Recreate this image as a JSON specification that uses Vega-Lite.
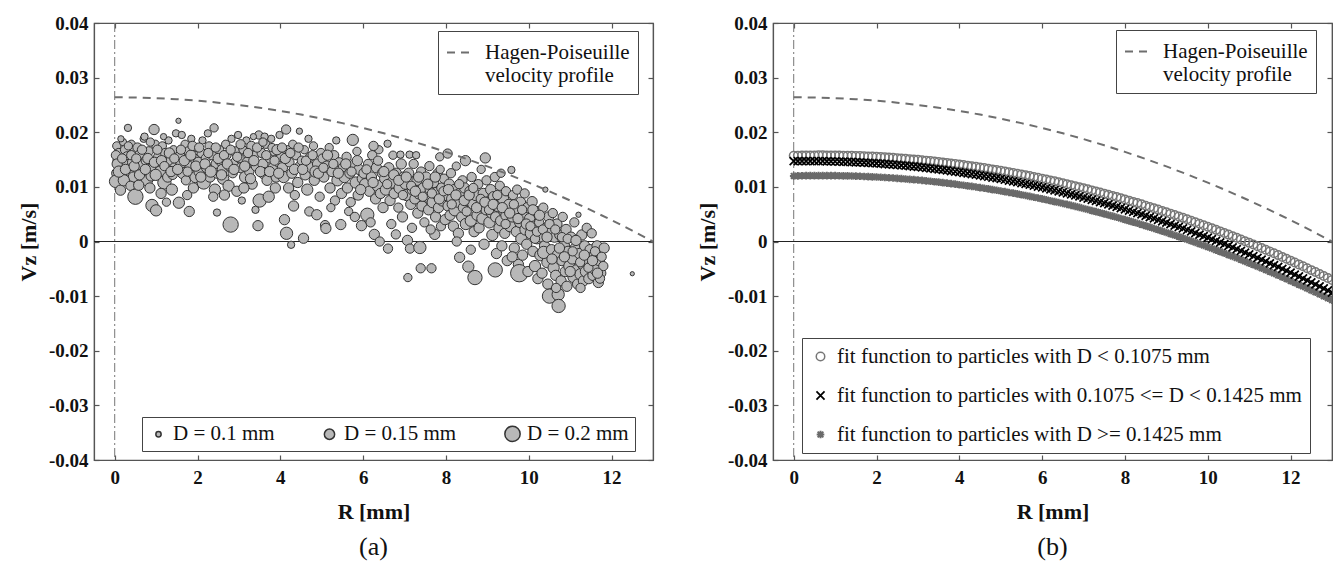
{
"$schema": "https://vega.github.io/schema/vega-lite/v6.json",
"background": "white",
"padding": {"left": 16, "top": 13, "right": 2, "bottom": 2},
"bounds": "flush",
"spacing": 120,
"resolve": {"scale": {"size": "independent", "strokeDash": "independent", "shape": "independent", "color": "independent", "strokeWidth": "independent"}, "legend": {"size": "independent", "strokeDash": "independent", "shape": "independent", "color": "independent", "strokeWidth": "independent"}},
"config": {
  "font": "Liberation Serif",
  "view": {"stroke": "#555", "strokeWidth": 1.2},
  "axis": {"labelFont": "Liberation Serif", "labelFontWeight": "bold", "labelFontSize": 19, "labelColor": "#111", "titleFont": "Liberation Serif", "titleFontSize": 22, "titleFontWeight": "bold", "titleColor": "#111", "domainColor": "#555", "tickColor": "#555", "domainWidth": 1.2, "tickWidth": 1.2, "grid": false},
  "legend": {"labelFont": "Liberation Serif", "labelColor": "#111", "strokeColor": "#444", "fillColor": "white", "cornerRadius": 0, "labelLimit": 800},
  "title": {"font": "Liberation Serif", "fontWeight": "normal", "fontSize": 26, "color": "#111"}
},
"datasets": {
"sc": [
{"r":0.05,"v":0.0175,"d":0.13},{"r":0.1,"v":0.0162,"d":0.14},{"r":0.08,"v":0.0148,"d":0.15},{"r":0.12,"v":0.0135,"d":0.14},{"r":0.05,"v":0.0125,"d":0.15},{"r":0.02,"v":0.011,"d":0.17},{"r":0.14,"v":0.0094,"d":0.15},{"r":0.2,"v":0.0182,"d":0.12},{"r":0.25,"v":0.0168,"d":0.14},{"r":0.3,"v":0.0155,"d":0.15},{"r":0.28,"v":0.014,"d":0.16},{"r":0.35,"v":0.0128,"d":0.14},{"r":0.32,"v":0.0208,"d":0.12},{"r":0.4,"v":0.0178,"d":0.13},{"r":0.45,"v":0.0118,"d":0.15},{"r":0.42,"v":0.0145,"d":0.14},{"r":0.22,"v":0.0112,"d":0.16},{"r":0.48,"v":0.0165,"d":0.15},{"r":0.15,"v":0.0188,"d":0.11},{"r":0.38,"v":0.0102,"d":0.14},
{"r":0.5,"v":0.0082,"d":0.2},{"r":0.55,"v":0.0172,"d":0.14},{"r":0.6,"v":0.0158,"d":0.15},{"r":0.62,"v":0.0138,"d":0.16},{"r":0.68,"v":0.0125,"d":0.15},{"r":0.7,"v":0.0188,"d":0.12},{"r":0.75,"v":0.0148,"d":0.14},{"r":0.78,"v":0.0112,"d":0.16},{"r":0.82,"v":0.0165,"d":0.14},{"r":0.85,"v":0.0098,"d":0.15},{"r":0.9,"v":0.0066,"d":0.17},{"r":0.95,"v":0.0205,"d":0.15},{"r":0.92,"v":0.0135,"d":0.14},{"r":0.98,"v":0.0178,"d":0.13},{"r":1.0,"v":0.0057,"d":0.16},{"r":0.88,"v":0.012,"d":0.15},{"r":0.58,"v":0.0103,"d":0.15},{"r":0.72,"v":0.0192,"d":0.12},
{"r":1.05,"v":0.0155,"d":0.14},{"r":1.08,"v":0.0142,"d":0.15},{"r":1.1,"v":0.0128,"d":0.16},{"r":1.15,"v":0.0175,"d":0.13},{"r":1.2,"v":0.0108,"d":0.18},{"r":1.22,"v":0.0162,"d":0.14},{"r":1.28,"v":0.0118,"d":0.15},{"r":1.3,"v":0.0185,"d":0.12},{"r":1.35,"v":0.0148,"d":0.14},{"r":1.38,"v":0.0095,"d":0.16},{"r":1.42,"v":0.0168,"d":0.13},{"r":1.45,"v":0.0135,"d":0.15},{"r":1.48,"v":0.0198,"d":0.12},{"r":1.12,"v":0.0088,"d":0.15},{"r":1.25,"v":0.0072,"d":0.13},{"r":1.4,"v":0.0122,"d":0.14},{"r":1.18,"v":0.0192,"d":0.11},
{"r":1.54,"v":0.0221,"d":0.1},{"r":1.55,"v":0.0071,"d":0.16},{"r":1.58,"v":0.0158,"d":0.14},{"r":1.6,"v":0.0142,"d":0.15},{"r":1.65,"v":0.0125,"d":0.16},{"r":1.7,"v":0.0178,"d":0.13},{"r":1.72,"v":0.0112,"d":0.14},{"r":1.78,"v":0.0165,"d":0.14},{"r":1.8,"v":0.0055,"d":0.15},{"r":1.82,"v":0.0138,"d":0.15},{"r":1.85,"v":0.0188,"d":0.12},{"r":1.9,"v":0.0098,"d":0.15},{"r":1.92,"v":0.0152,"d":0.14},{"r":1.95,"v":0.0118,"d":0.16},{"r":1.98,"v":0.0172,"d":0.13},{"r":1.62,"v":0.0195,"d":0.12},{"r":1.75,"v":0.0085,"d":0.14},
{"r":2.02,"v":0.0145,"d":0.15},{"r":2.05,"v":0.0128,"d":0.16},{"r":2.1,"v":0.0162,"d":0.14},{"r":2.12,"v":0.0185,"d":0.12},{"r":2.15,"v":0.0108,"d":0.18},{"r":2.2,"v":0.0152,"d":0.14},{"r":2.22,"v":0.0135,"d":0.15},{"r":2.28,"v":0.0175,"d":0.13},{"r":2.3,"v":0.0118,"d":0.15},{"r":2.35,"v":0.0158,"d":0.14},{"r":2.4,"v":0.0208,"d":0.13},{"r":2.42,"v":0.0095,"d":0.16},{"r":2.45,"v":0.0142,"d":0.15},{"r":2.47,"v":0.0053,"d":0.12},{"r":2.48,"v":0.0125,"d":0.15},{"r":2.25,"v":0.0198,"d":0.12},{"r":2.38,"v":0.0082,"d":0.14},
{"r":2.52,"v":0.0168,"d":0.14},{"r":2.55,"v":0.0148,"d":0.15},{"r":2.6,"v":0.0132,"d":0.15},{"r":2.62,"v":0.0115,"d":0.16},{"r":2.68,"v":0.0178,"d":0.13},{"r":2.7,"v":0.0158,"d":0.14},{"r":2.75,"v":0.0102,"d":0.16},{"r":2.78,"v":0.0138,"d":0.15},{"r":2.8,"v":0.0031,"d":0.2},{"r":2.82,"v":0.0188,"d":0.12},{"r":2.85,"v":0.0125,"d":0.14},{"r":2.9,"v":0.0165,"d":0.14},{"r":2.92,"v":0.0145,"d":0.15},{"r":2.95,"v":0.0092,"d":0.15},{"r":2.98,"v":0.0195,"d":0.12},{"r":2.65,"v":0.0085,"d":0.15},
{"r":3.02,"v":0.0152,"d":0.14},{"r":3.05,"v":0.0135,"d":0.15},{"r":3.07,"v":0.0075,"d":0.12},{"r":3.1,"v":0.0168,"d":0.13},{"r":3.15,"v":0.0118,"d":0.16},{"r":3.18,"v":0.0185,"d":0.12},{"r":3.2,"v":0.0145,"d":0.15},{"r":3.25,"v":0.0128,"d":0.14},{"r":3.3,"v":0.0175,"d":0.14},{"r":3.32,"v":0.0105,"d":0.15},{"r":3.38,"v":0.0158,"d":0.13},{"r":3.4,"v":0.0058,"d":0.12},{"r":3.42,"v":0.0138,"d":0.15},{"r":3.46,"v":0.0029,"d":0.15},{"r":3.48,"v":0.0195,"d":0.13},{"r":3.5,"v":0.0075,"d":0.18},{"r":3.35,"v":0.0192,"d":0.11},{"r":3.12,"v":0.0098,"d":0.15},
{"r":3.55,"v":0.0162,"d":0.14},{"r":3.58,"v":0.0142,"d":0.15},{"r":3.6,"v":0.0125,"d":0.16},{"r":3.65,"v":0.0178,"d":0.13},{"r":3.68,"v":0.0112,"d":0.15},{"r":3.72,"v":0.0082,"d":0.16},{"r":3.75,"v":0.0152,"d":0.14},{"r":3.78,"v":0.0188,"d":0.12},{"r":3.82,"v":0.0135,"d":0.15},{"r":3.85,"v":0.0165,"d":0.14},{"r":3.88,"v":0.0098,"d":0.15},{"r":3.9,"v":0.0118,"d":0.15},{"r":3.95,"v":0.0145,"d":0.14},{"r":3.98,"v":0.0195,"d":0.12},{"r":3.62,"v":0.0192,"d":0.12},{"r":3.8,"v":0.0172,"d":0.13},
{"r":4.02,"v":0.0155,"d":0.14},{"r":4.05,"v":0.0135,"d":0.15},{"r":4.08,"v":0.0118,"d":0.16},{"r":4.1,"v":0.004,"d":0.15},{"r":4.14,"v":0.0205,"d":0.14},{"r":4.15,"v":0.0015,"d":0.17},{"r":4.18,"v":0.0168,"d":0.13},{"r":4.2,"v":0.0098,"d":0.15},{"r":4.22,"v":0.0145,"d":0.14},{"r":4.26,"v":-0.0006,"d":0.12},{"r":4.28,"v":0.0125,"d":0.15},{"r":4.3,"v":0.0178,"d":0.13},{"r":4.35,"v":0.0085,"d":0.14},{"r":4.38,"v":0.0158,"d":0.14},{"r":4.42,"v":0.0108,"d":0.15},{"r":4.46,"v":0.0202,"d":0.11},{"r":4.48,"v":0.0138,"d":0.15},{"r":4.32,"v":0.0065,"d":0.15},
{"r":4.52,"v":0.0148,"d":0.14},{"r":4.56,"v":0.0006,"d":0.15},{"r":4.58,"v":0.0168,"d":0.13},{"r":4.6,"v":0.0122,"d":0.15},{"r":4.65,"v":0.0095,"d":0.16},{"r":4.7,"v":0.0055,"d":0.14},{"r":4.72,"v":0.0155,"d":0.14},{"r":4.75,"v":0.0135,"d":0.15},{"r":4.8,"v":0.0175,"d":0.13},{"r":4.82,"v":0.0112,"d":0.15},{"r":4.88,"v":0.0049,"d":0.15},{"r":4.9,"v":0.0142,"d":0.15},{"r":4.95,"v":0.0082,"d":0.14},{"r":4.98,"v":0.0162,"d":0.14},{"r":4.68,"v":0.0188,"d":0.12},{"r":4.85,"v":0.0128,"d":0.16},
{"r":5.02,"v":0.0152,"d":0.14},{"r":5.05,"v":0.0118,"d":0.15},{"r":5.08,"v":0.003,"d":0.14},{"r":5.1,"v":0.0024,"d":0.15},{"r":5.12,"v":0.0138,"d":0.15},{"r":5.18,"v":0.0172,"d":0.13},{"r":5.2,"v":0.0098,"d":0.15},{"r":5.25,"v":0.0128,"d":0.15},{"r":5.3,"v":0.0158,"d":0.14},{"r":5.32,"v":0.0075,"d":0.14},{"r":5.38,"v":0.0112,"d":0.16},{"r":5.42,"v":0.0145,"d":0.14},{"r":5.46,"v":0.0031,"d":0.15},{"r":5.48,"v":0.0088,"d":0.15},{"r":5.35,"v":0.0185,"d":0.12},{"r":5.22,"v":0.0062,"d":0.13},
{"r":5.52,"v":0.0135,"d":0.15},{"r":5.55,"v":0.0118,"d":0.16},{"r":5.6,"v":0.0155,"d":0.14},{"r":5.62,"v":0.0098,"d":0.15},{"r":5.68,"v":0.0125,"d":0.15},{"r":5.7,"v":0.0072,"d":0.14},{"r":5.75,"v":0.0186,"d":0.16},{"r":5.78,"v":0.0142,"d":0.14},{"r":5.82,"v":0.0108,"d":0.16},{"r":5.85,"v":0.0165,"d":0.13},{"r":5.88,"v":0.0085,"d":0.15},{"r":5.9,"v":0.0132,"d":0.15},{"r":5.96,"v":0.0029,"d":0.15},{"r":5.98,"v":0.0115,"d":0.15},{"r":5.65,"v":0.0055,"d":0.13},{"r":5.8,"v":0.0045,"d":0.14},
{"r":6.02,"v":0.0125,"d":0.15},{"r":6.05,"v":0.0105,"d":0.16},{"r":6.1,"v":0.0049,"d":0.18},{"r":6.12,"v":0.0142,"d":0.14},{"r":6.15,"v":0.0092,"d":0.15},{"r":6.2,"v":0.0118,"d":0.15},{"r":6.22,"v":0.0158,"d":0.14},{"r":6.27,"v":0.0013,"d":0.15},{"r":6.3,"v":0.0078,"d":0.15},{"r":6.32,"v":0.0135,"d":0.15},{"r":6.35,"v":0.0102,"d":0.16},{"r":6.38,"v":0.0168,"d":0.13},{"r":6.4,"v":0.0,"d":0.14},{"r":6.42,"v":0.0088,"d":0.15},{"r":6.45,"v":0.0125,"d":0.14},{"r":6.48,"v":0.0062,"d":0.15},{"r":6.25,"v":0.0175,"d":0.14},{"r":6.18,"v":0.0035,"d":0.14},
{"r":6.52,"v":0.0115,"d":0.15},{"r":6.55,"v":0.0095,"d":0.16},{"r":6.59,"v":0.0179,"d":0.12},{"r":6.6,"v":-0.0013,"d":0.14},{"r":6.62,"v":0.0135,"d":0.15},{"r":6.65,"v":0.0075,"d":0.15},{"r":6.7,"v":0.0108,"d":0.16},{"r":6.72,"v":0.0158,"d":0.13},{"r":6.75,"v":0.0088,"d":0.15},{"r":6.79,"v":0.0013,"d":0.14},{"r":6.8,"v":0.0125,"d":0.15},{"r":6.85,"v":0.0062,"d":0.14},{"r":6.88,"v":0.0098,"d":0.16},{"r":6.9,"v":0.0159,"d":0.12},{"r":6.92,"v":0.0142,"d":0.15},{"r":6.95,"v":0.0045,"d":0.15},{"r":6.98,"v":0.0118,"d":0.15},{"r":6.68,"v":0.0032,"d":0.14},
{"r":7.02,"v":0.0105,"d":0.15},{"r":7.05,"v":0.0085,"d":0.16},{"r":7.07,"v":0.0002,"d":0.15},{"r":7.08,"v":-0.0066,"d":0.13},{"r":7.1,"v":0.0125,"d":0.15},{"r":7.12,"v":0.0159,"d":0.12},{"r":7.13,"v":-0.0013,"d":0.14},{"r":7.15,"v":0.0068,"d":0.15},{"r":7.2,"v":0.0095,"d":0.16},{"r":7.22,"v":0.0142,"d":0.14},{"r":7.25,"v":0.0078,"d":0.15},{"r":7.28,"v":0.0158,"d":0.12},{"r":7.3,"v":0.0112,"d":0.15},{"r":7.32,"v":0.0052,"d":0.15},{"r":7.35,"v":0.0088,"d":0.16},{"r":7.37,"v":-0.0011,"d":0.17},{"r":7.39,"v":-0.0049,"d":0.14},{"r":7.4,"v":0.0128,"d":0.14},{"r":7.42,"v":0.0065,"d":0.15},{"r":7.45,"v":0.0098,"d":0.15},{"r":7.48,"v":0.0035,"d":0.14},{"r":7.18,"v":0.0025,"d":0.14},
{"r":7.52,"v":0.0118,"d":0.15},{"r":7.55,"v":0.0082,"d":0.16},{"r":7.58,"v":0.0058,"d":0.15},{"r":7.6,"v":0.0138,"d":0.14},{"r":7.62,"v":0.0095,"d":0.15},{"r":7.65,"v":-0.0049,"d":0.14},{"r":7.68,"v":0.0072,"d":0.16},{"r":7.7,"v":0.0108,"d":0.15},{"r":7.73,"v":0.0013,"d":0.15},{"r":7.75,"v":0.0045,"d":0.15},{"r":7.78,"v":0.0088,"d":0.17},{"r":7.8,"v":0.0125,"d":0.14},{"r":7.82,"v":0.0062,"d":0.15},{"r":7.85,"v":0.0155,"d":0.13},{"r":7.88,"v":0.0028,"d":0.14},{"r":7.9,"v":0.0098,"d":0.15},{"r":7.92,"v":0.0075,"d":0.16},{"r":7.95,"v":0.0115,"d":0.14},{"r":7.98,"v":0.004,"d":0.15},{"r":7.63,"v":0.0022,"d":0.14},{"r":7.86,"v":0.0132,"d":0.13},
{"r":8.02,"v":0.0085,"d":0.16},{"r":8.04,"v":0.0161,"d":0.14},{"r":8.05,"v":0.0065,"d":0.15},{"r":8.08,"v":0.0105,"d":0.15},{"r":8.1,"v":0.0048,"d":0.15},{"r":8.12,"v":0.0125,"d":0.14},{"r":8.15,"v":0.0078,"d":0.16},{"r":8.18,"v":0.0028,"d":0.15},{"r":8.2,"v":0.0095,"d":0.15},{"r":8.22,"v":0.0058,"d":0.17},{"r":8.25,"v":0.0138,"d":0.13},{"r":8.28,"v":0.0072,"d":0.15},{"r":8.3,"v":0.0015,"d":0.15},{"r":8.33,"v":-0.0029,"d":0.15},{"r":8.35,"v":0.0088,"d":0.16},{"r":8.38,"v":0.0045,"d":0.15},{"r":8.4,"v":0.0112,"d":0.14},{"r":8.42,"v":0.0062,"d":0.15},{"r":8.45,"v":0.0098,"d":0.15},{"r":8.47,"v":0.0148,"d":0.15},{"r":8.48,"v":0.0032,"d":0.16},{"r":8.26,"v":0.0,"d":0.14},
{"r":8.52,"v":0.0075,"d":0.15},{"r":8.54,"v":-0.0046,"d":0.16},{"r":8.55,"v":0.0055,"d":0.15},{"r":8.58,"v":0.0092,"d":0.15},{"r":8.6,"v":0.0038,"d":0.16},{"r":8.62,"v":0.0118,"d":0.14},{"r":8.65,"v":0.0068,"d":0.15},{"r":8.68,"v":0.0018,"d":0.15},{"r":8.7,"v":-0.0066,"d":0.19},{"r":8.72,"v":0.0085,"d":0.16},{"r":8.75,"v":0.0048,"d":0.15},{"r":8.78,"v":0.0105,"d":0.14},{"r":8.8,"v":0.0025,"d":0.15},{"r":8.82,"v":0.0065,"d":0.15},{"r":8.85,"v":0.0132,"d":0.13},{"r":8.88,"v":0.0042,"d":0.16},{"r":8.9,"v":0.0088,"d":0.15},{"r":8.92,"v":-0.0005,"d":0.15},{"r":8.95,"v":0.0153,"d":0.15},{"r":8.97,"v":0.0058,"d":0.15},{"r":8.98,"v":0.0112,"d":0.14},{"r":8.6,"v":-0.0015,"d":0.14},
{"r":9.02,"v":0.0072,"d":0.15},{"r":9.05,"v":0.0035,"d":0.16},{"r":9.08,"v":0.0095,"d":0.15},{"r":9.1,"v":0.0052,"d":0.15},{"r":9.12,"v":0.0012,"d":0.16},{"r":9.15,"v":0.0082,"d":0.15},{"r":9.18,"v":0.0118,"d":0.14},{"r":9.19,"v":-0.0052,"d":0.19},{"r":9.2,"v":0.0045,"d":0.15},{"r":9.22,"v":-0.0022,"d":0.15},{"r":9.25,"v":0.0065,"d":0.16},{"r":9.28,"v":0.0025,"d":0.15},{"r":9.3,"v":0.0102,"d":0.14},{"r":9.32,"v":0.0038,"d":0.15},{"r":9.35,"v":-0.0008,"d":0.15},{"r":9.38,"v":0.0078,"d":0.16},{"r":9.4,"v":0.0055,"d":0.15},{"r":9.42,"v":0.0015,"d":0.15},{"r":9.45,"v":0.0092,"d":0.14},{"r":9.48,"v":-0.0035,"d":0.15},{"r":9.46,"v":0.0048,"d":0.16},{"r":9.33,"v":0.0125,"d":0.13},
{"r":9.52,"v":0.0068,"d":0.15},{"r":9.55,"v":0.0028,"d":0.16},{"r":9.58,"v":0.0131,"d":0.12},{"r":9.6,"v":0.0045,"d":0.15},{"r":9.62,"v":0.0085,"d":0.14},{"r":9.65,"v":-0.0012,"d":0.15},{"r":9.68,"v":0.0058,"d":0.16},{"r":9.7,"v":0.0018,"d":0.15},{"r":9.72,"v":0.0095,"d":0.14},{"r":9.75,"v":-0.0042,"d":0.15},{"r":9.77,"v":-0.0058,"d":0.22},{"r":9.78,"v":0.0035,"d":0.15},{"r":9.8,"v":0.0072,"d":0.15},{"r":9.82,"v":0.0005,"d":0.16},{"r":9.85,"v":-0.0025,"d":0.15},{"r":9.88,"v":0.0048,"d":0.15},{"r":9.9,"v":0.0088,"d":0.14},{"r":9.92,"v":0.0022,"d":0.16},{"r":9.95,"v":-0.0005,"d":0.15},{"r":9.97,"v":0.0062,"d":0.15},{"r":9.98,"v":-0.0055,"d":0.15},{"r":9.6,"v":-0.0028,"d":0.15},
{"r":10.02,"v":0.0042,"d":0.15},{"r":10.05,"v":0.0015,"d":0.16},{"r":10.08,"v":0.0073,"d":0.15},{"r":10.1,"v":-0.0018,"d":0.15},{"r":10.12,"v":0.0028,"d":0.15},{"r":10.15,"v":-0.0045,"d":0.16},{"r":10.18,"v":0.0055,"d":0.15},{"r":10.2,"v":0.0005,"d":0.15},{"r":10.22,"v":-0.0068,"d":0.15},{"r":10.25,"v":0.0035,"d":0.14},{"r":10.28,"v":-0.0025,"d":0.16},{"r":10.3,"v":0.0012,"d":0.19},{"r":10.32,"v":-0.0058,"d":0.15},{"r":10.35,"v":0.0062,"d":0.14},{"r":10.38,"v":-0.0008,"d":0.15},{"r":10.4,"v":0.0095,"d":0.1},{"r":10.42,"v":0.0025,"d":0.15},{"r":10.45,"v":-0.0038,"d":0.16},{"r":10.48,"v":0.0045,"d":0.15},{"r":10.46,"v":-0.0078,"d":0.15},{"r":10.36,"v":-0.002,"d":0.17},{"r":10.15,"v":0.0005,"d":0.14},
{"r":10.5,"v":-0.01,"d":0.19},{"r":10.52,"v":0.0018,"d":0.15},{"r":10.55,"v":-0.0015,"d":0.15},{"r":10.58,"v":0.0052,"d":0.14},{"r":10.6,"v":-0.0048,"d":0.16},{"r":10.62,"v":0.0008,"d":0.15},{"r":10.65,"v":-0.0062,"d":0.15},{"r":10.68,"v":0.0032,"d":0.15},{"r":10.7,"v":-0.0025,"d":0.16},{"r":10.71,"v":-0.0097,"d":0.17},{"r":10.72,"v":-0.0118,"d":0.18},{"r":10.75,"v":0.0012,"d":0.15},{"r":10.78,"v":-0.0072,"d":0.15},{"r":10.8,"v":-0.0035,"d":0.15},{"r":10.82,"v":0.0045,"d":0.14},{"r":10.85,"v":-0.0008,"d":0.16},{"r":10.88,"v":-0.0055,"d":0.15},{"r":10.9,"v":0.0022,"d":0.15},{"r":10.92,"v":-0.0082,"d":0.15},{"r":10.95,"v":-0.0018,"d":0.15},{"r":10.98,"v":-0.0045,"d":0.16},{"r":10.66,"v":-0.0085,"d":0.14},
{"r":11.02,"v":0.0008,"d":0.15},{"r":11.05,"v":-0.0032,"d":0.15},{"r":11.08,"v":-0.0065,"d":0.16},{"r":11.1,"v":0.0035,"d":0.14},{"r":11.12,"v":-0.0012,"d":0.15},{"r":11.15,"v":-0.0052,"d":0.15},{"r":11.18,"v":-0.0078,"d":0.15},{"r":11.2,"v":0.0049,"d":0.1},{"r":11.22,"v":-0.0022,"d":0.15},{"r":11.25,"v":-0.006,"d":0.16},{"r":11.28,"v":0.0012,"d":0.15},{"r":11.3,"v":-0.0042,"d":0.15},{"r":11.32,"v":-0.0072,"d":0.15},{"r":11.35,"v":-0.0008,"d":0.15},{"r":11.38,"v":-0.0055,"d":0.16},{"r":11.4,"v":0.0025,"d":0.14},{"r":11.42,"v":-0.0035,"d":0.15},{"r":11.45,"v":-0.0068,"d":0.15},{"r":11.48,"v":-0.0015,"d":0.15},{"r":11.25,"v":-0.0085,"d":0.14},
{"r":11.5,"v":-0.0045,"d":0.15},{"r":11.52,"v":0.0015,"d":0.14},{"r":11.55,"v":-0.0062,"d":0.15},{"r":11.58,"v":-0.0025,"d":0.15},{"r":11.62,"v":-0.0052,"d":0.16},{"r":11.65,"v":-0.0008,"d":0.15},{"r":11.68,"v":-0.0075,"d":0.15},{"r":11.7,"v":-0.0035,"d":0.15},{"r":11.75,"v":-0.0058,"d":0.14},{"r":11.8,"v":-0.0045,"d":0.14},{"r":11.82,"v":-0.0012,"d":0.15},{"r":11.72,"v":-0.0068,"d":0.14},
{"r":12.5,"v":-0.0059,"d":0.09},
{"r":0.03,"v":0.0158,"d":0.14},{"r":0.06,"v":0.0142,"d":0.15},{"r":0.1,"v":0.0128,"d":0.16},{"r":0.18,"v":0.0152,"d":0.14},{"r":0.26,"v":0.0132,"d":0.15},{"r":0.33,"v":0.0175,"d":0.13},{"r":0.4,"v":0.0158,"d":0.14},{"r":0.47,"v":0.0138,"d":0.15},{"r":0.52,"v":0.0152,"d":0.14},{"r":0.6,"v":0.0122,"d":0.15},{"r":0.66,"v":0.0168,"d":0.14},{"r":0.74,"v":0.0132,"d":0.15},{"r":0.8,"v":0.0152,"d":0.15},{"r":0.86,"v":0.0182,"d":0.13},{"r":0.96,"v":0.0145,"d":0.15},{"r":0.99,"v":0.0122,"d":0.16},
{"r":1.03,"v":0.0168,"d":0.14},{"r":1.13,"v":0.0148,"d":0.15},{"r":1.2,"v":0.0138,"d":0.14},{"r":1.32,"v":0.0162,"d":0.15},{"r":1.36,"v":0.0128,"d":0.15},{"r":1.44,"v":0.0152,"d":0.14},{"r":1.52,"v":0.0132,"d":0.15},{"r":1.6,"v":0.0168,"d":0.14},{"r":1.68,"v":0.0148,"d":0.15},{"r":1.76,"v":0.0128,"d":0.14},{"r":1.84,"v":0.0158,"d":0.15},{"r":1.88,"v":0.0175,"d":0.14},{"r":1.96,"v":0.0138,"d":0.15},
{"r":2.04,"v":0.0172,"d":0.14},{"r":2.08,"v":0.0118,"d":0.15},{"r":2.18,"v":0.0142,"d":0.15},{"r":2.26,"v":0.0162,"d":0.14},{"r":2.32,"v":0.0128,"d":0.16},{"r":2.44,"v":0.0172,"d":0.14},{"r":2.5,"v":0.0152,"d":0.15},{"r":2.58,"v":0.0122,"d":0.15},{"r":2.64,"v":0.0158,"d":0.14},{"r":2.72,"v":0.0142,"d":0.15},{"r":2.8,"v":0.0168,"d":0.14},{"r":2.88,"v":0.0132,"d":0.15},{"r":2.96,"v":0.0155,"d":0.14},
{"r":3.04,"v":0.0178,"d":0.14},{"r":3.14,"v":0.0138,"d":0.15},{"r":3.22,"v":0.0162,"d":0.14},{"r":3.28,"v":0.0115,"d":0.15},{"r":3.36,"v":0.0148,"d":0.15},{"r":3.44,"v":0.0172,"d":0.14},{"r":3.52,"v":0.0128,"d":0.15},{"r":3.58,"v":0.0182,"d":0.13},{"r":3.66,"v":0.0158,"d":0.14},{"r":3.74,"v":0.0128,"d":0.15},{"r":3.86,"v":0.0148,"d":0.14},{"r":3.92,"v":0.0168,"d":0.15},{"r":3.96,"v":0.0125,"d":0.15},
{"r":4.04,"v":0.0172,"d":0.14},{"r":4.12,"v":0.0152,"d":0.15},{"r":4.24,"v":0.0162,"d":0.14},{"r":4.34,"v":0.0132,"d":0.15},{"r":4.44,"v":0.0172,"d":0.14},{"r":4.54,"v":0.0132,"d":0.15},{"r":4.62,"v":0.0148,"d":0.14},{"r":4.78,"v":0.0158,"d":0.14},{"r":4.92,"v":0.0125,"d":0.15},{"r":5.04,"v":0.0135,"d":0.14},{"r":5.14,"v":0.0158,"d":0.15},{"r":5.28,"v":0.0142,"d":0.14},{"r":5.4,"v":0.0125,"d":0.15},{"r":5.58,"v":0.0142,"d":0.15},{"r":5.72,"v":0.0128,"d":0.14},{"r":5.86,"v":0.0148,"d":0.15},{"r":5.94,"v":0.0095,"d":0.15},
{"r":6.08,"v":0.0132,"d":0.14},{"r":6.24,"v":0.0108,"d":0.15},{"r":6.36,"v":0.0148,"d":0.14},{"r":6.5,"v":0.0128,"d":0.15},{"r":6.58,"v":0.0105,"d":0.14},{"r":6.74,"v":0.0122,"d":0.15},{"r":6.86,"v":0.0112,"d":0.15},{"r":6.96,"v":0.0085,"d":0.14},{"r":7.04,"v":0.0118,"d":0.15},{"r":7.16,"v":0.0102,"d":0.14},{"r":7.26,"v":0.0092,"d":0.15},{"r":7.34,"v":0.0118,"d":0.15},{"r":7.44,"v":0.0082,"d":0.14},{"r":7.56,"v":0.0105,"d":0.15},{"r":7.66,"v":0.0088,"d":0.14},{"r":7.74,"v":0.0118,"d":0.15},{"r":7.84,"v":0.0078,"d":0.15},{"r":7.94,"v":0.0092,"d":0.14},
{"r":8.06,"v":0.0095,"d":0.15},{"r":8.14,"v":0.0068,"d":0.14},{"r":8.24,"v":0.0085,"d":0.15},{"r":8.32,"v":0.0105,"d":0.14},{"r":8.44,"v":0.0075,"d":0.15},{"r":8.5,"v":0.0055,"d":0.14},{"r":8.56,"v":0.0085,"d":0.15},{"r":8.66,"v":0.0098,"d":0.14},{"r":8.74,"v":0.0062,"d":0.15},{"r":8.84,"v":0.0078,"d":0.14},{"r":8.94,"v":0.0072,"d":0.15},{"r":9.04,"v":0.0058,"d":0.14},{"r":9.14,"v":0.0068,"d":0.15},{"r":9.24,"v":0.0085,"d":0.14},{"r":9.36,"v":0.0062,"d":0.15},{"r":9.44,"v":0.0032,"d":0.14},{"r":9.54,"v":0.0052,"d":0.15},{"r":9.64,"v":0.0068,"d":0.14},{"r":9.74,"v":0.0042,"d":0.15},{"r":9.84,"v":0.0058,"d":0.14},{"r":9.94,"v":0.0032,"d":0.15},
{"r":10.04,"v":0.0028,"d":0.14},{"r":10.1,"v":0.0058,"d":0.15},{"r":10.2,"v":0.0018,"d":0.14},{"r":10.26,"v":0.0048,"d":0.15},{"r":10.34,"v":0.0022,"d":0.14},{"r":10.44,"v":0.0008,"d":0.15},{"r":10.5,"v":0.0032,"d":0.14},{"r":10.56,"v":-0.0032,"d":0.15},{"r":10.64,"v":0.0022,"d":0.14},{"r":10.74,"v":-0.0012,"d":0.15},{"r":10.8,"v":0.0008,"d":0.14},{"r":10.86,"v":-0.0028,"d":0.15},{"r":10.94,"v":0.0005,"d":0.14},{"r":11.0,"v":-0.0055,"d":0.15},{"r":11.06,"v":-0.0018,"d":0.14},{"r":11.14,"v":0.0002,"d":0.15},{"r":11.24,"v":-0.0038,"d":0.14},{"r":11.34,"v":-0.0025,"d":0.15},{"r":11.44,"v":-0.0048,"d":0.14},{"r":11.54,"v":-0.0035,"d":0.15},{"r":11.6,"v":-0.0018,"d":0.14},{"r":11.66,"v":-0.0058,"d":0.15},{"r":11.76,"v":-0.0028,"d":0.14}
],
"hp": [
{"r":0,"v":0.0264,"n":"hp"},{"r":0.5,"v":0.02636,"n":"hp"},{"r":1,"v":0.02624,"n":"hp"},{"r":1.5,"v":0.02605,"n":"hp"},{"r":2,"v":0.02578,"n":"hp"},{"r":2.5,"v":0.02542,"n":"hp"},{"r":3,"v":0.02499,"n":"hp"},{"r":3.5,"v":0.02449,"n":"hp"},{"r":4,"v":0.0239,"n":"hp"},{"r":4.5,"v":0.02324,"n":"hp"},{"r":5,"v":0.02249,"n":"hp"},{"r":5.5,"v":0.02167,"n":"hp"},{"r":6,"v":0.02078,"n":"hp"},{"r":6.5,"v":0.0198,"n":"hp"},{"r":7,"v":0.01875,"n":"hp"},{"r":7.5,"v":0.01761,"n":"hp"},{"r":8,"v":0.0164,"n":"hp"},{"r":8.5,"v":0.01511,"n":"hp"},{"r":9,"v":0.01375,"n":"hp"},{"r":9.5,"v":0.0123,"n":"hp"},{"r":10,"v":0.01078,"n":"hp"},{"r":10.5,"v":0.00918,"n":"hp"},{"r":11,"v":0.0075,"n":"hp"},{"r":11.5,"v":0.00574,"n":"hp"},{"r":12,"v":0.00391,"n":"hp"},{"r":12.5,"v":0.00199,"n":"hp"},{"r":13,"v":0,"n":"hp"}
],
"fit": [
{"r":0,"s":"a","v":0.0157},{"r":0.1,"s":"a","v":0.01572},{"r":0.2,"s":"a","v":0.01573},{"r":0.3,"s":"a","v":0.01575},{"r":0.4,"s":"a","v":0.01576},{"r":0.5,"s":"a","v":0.01576},{"r":0.6,"s":"a","v":0.01577},{"r":0.7,"s":"a","v":0.01577},{"r":0.8,"s":"a","v":0.01576},{"r":0.9,"s":"a","v":0.01576},{"r":1,"s":"a","v":0.01575},{"r":1.1,"s":"a","v":0.01574},{"r":1.2,"s":"a","v":0.01572},{"r":1.3,"s":"a","v":0.01571},{"r":1.4,"s":"a","v":0.01569},{"r":1.5,"s":"a","v":0.01566},{"r":1.6,"s":"a","v":0.01564},{"r":1.7,"s":"a","v":0.01561},{"r":1.8,"s":"a","v":0.01557},{"r":1.9,"s":"a","v":0.01554},{"r":2,"s":"a","v":0.0155},{"r":2.1,"s":"a","v":0.01546},{"r":2.2,"s":"a","v":0.01541},{"r":2.3,"s":"a","v":0.01537},{"r":2.4,"s":"a","v":0.01532},{"r":2.5,"s":"a","v":0.01526},{"r":2.6,"s":"a","v":0.01521},{"r":2.7,"s":"a","v":0.01515},{"r":2.8,"s":"a","v":0.01508},{"r":2.9,"s":"a","v":0.01502},{"r":3,"s":"a","v":0.01495},{"r":3.1,"s":"a","v":0.01488},{"r":3.2,"s":"a","v":0.0148},{"r":3.3,"s":"a","v":0.01473},{"r":3.4,"s":"a","v":0.01465},{"r":3.5,"s":"a","v":0.01456},{"r":3.6,"s":"a","v":0.01448},{"r":3.7,"s":"a","v":0.01439},{"r":3.8,"s":"a","v":0.01429},{"r":3.9,"s":"a","v":0.0142},{"r":4,"s":"a","v":0.0141},{"r":4.1,"s":"a","v":0.014},{"r":4.2,"s":"a","v":0.01389},{"r":4.3,"s":"a","v":0.01379},{"r":4.4,"s":"a","v":0.01368},{"r":4.5,"s":"a","v":0.01356},{"r":4.6,"s":"a","v":0.01345},{"r":4.7,"s":"a","v":0.01333},{"r":4.8,"s":"a","v":0.0132},{"r":4.9,"s":"a","v":0.01308},{"r":5,"s":"a","v":0.01295},{"r":5.1,"s":"a","v":0.01282},{"r":5.2,"s":"a","v":0.01268},{"r":5.3,"s":"a","v":0.01255},{"r":5.4,"s":"a","v":0.01241},{"r":5.5,"s":"a","v":0.01226},{"r":5.6,"s":"a","v":0.01212},{"r":5.7,"s":"a","v":0.01197},{"r":5.8,"s":"a","v":0.01181},{"r":5.9,"s":"a","v":0.01166},{"r":6,"s":"a","v":0.0115},{"r":6.1,"s":"a","v":0.01134},{"r":6.2,"s":"a","v":0.01117},{"r":6.3,"s":"a","v":0.01101},{"r":6.4,"s":"a","v":0.01084},{"r":6.5,"s":"a","v":0.01066},{"r":6.6,"s":"a","v":0.01049},{"r":6.7,"s":"a","v":0.01031},{"r":6.8,"s":"a","v":0.01012},{"r":6.9,"s":"a","v":0.00994},{"r":7,"s":"a","v":0.00975},{"r":7.1,"s":"a","v":0.00956},{"r":7.2,"s":"a","v":0.00936},{"r":7.3,"s":"a","v":0.00917},{"r":7.4,"s":"a","v":0.00897},{"r":7.5,"s":"a","v":0.00876},{"r":7.6,"s":"a","v":0.00856},{"r":7.7,"s":"a","v":0.00835},{"r":7.8,"s":"a","v":0.00813},{"r":7.9,"s":"a","v":0.00792},{"r":8,"s":"a","v":0.0077},{"r":8.1,"s":"a","v":0.00748},{"r":8.2,"s":"a","v":0.00725},{"r":8.3,"s":"a","v":0.00703},{"r":8.4,"s":"a","v":0.0068},{"r":8.5,"s":"a","v":0.00656},{"r":8.6,"s":"a","v":0.00633},{"r":8.7,"s":"a","v":0.00609},{"r":8.8,"s":"a","v":0.00584},{"r":8.9,"s":"a","v":0.0056},{"r":9,"s":"a","v":0.00535},{"r":9.1,"s":"a","v":0.0051},{"r":9.2,"s":"a","v":0.00484},{"r":9.3,"s":"a","v":0.00459},{"r":9.4,"s":"a","v":0.00433},{"r":9.5,"s":"a","v":0.00406},{"r":9.6,"s":"a","v":0.0038},{"r":9.7,"s":"a","v":0.00353},{"r":9.8,"s":"a","v":0.00325},{"r":9.9,"s":"a","v":0.00298},{"r":10,"s":"a","v":0.0027},{"r":10.1,"s":"a","v":0.00242},{"r":10.2,"s":"a","v":0.00213},{"r":10.3,"s":"a","v":0.00185},{"r":10.4,"s":"a","v":0.00156},{"r":10.5,"s":"a","v":0.00126},{"r":10.6,"s":"a","v":0.00097},{"r":10.7,"s":"a","v":0.00067},{"r":10.8,"s":"a","v":0.00036},{"r":10.9,"s":"a","v":0.00006},{"r":11,"s":"a","v":-0.00025},{"r":11.1,"s":"a","v":-0.00056},{"r":11.2,"s":"a","v":-0.00088},{"r":11.3,"s":"a","v":-0.00119},{"r":11.4,"s":"a","v":-0.00151},{"r":11.5,"s":"a","v":-0.00184},{"r":11.6,"s":"a","v":-0.00216},{"r":11.7,"s":"a","v":-0.00249},{"r":11.8,"s":"a","v":-0.00283},{"r":11.9,"s":"a","v":-0.00316},{"r":12,"s":"a","v":-0.0035},{"r":12.1,"s":"a","v":-0.00384},{"r":12.2,"s":"a","v":-0.00419},{"r":12.3,"s":"a","v":-0.00453},{"r":12.4,"s":"a","v":-0.00488},{"r":12.5,"s":"a","v":-0.00524},{"r":12.6,"s":"a","v":-0.00559},{"r":12.7,"s":"a","v":-0.00595},{"r":12.8,"s":"a","v":-0.00632},{"r":12.9,"s":"a","v":-0.00668},{"r":13,"s":"a","v":-0.00705},
{"r":0,"s":"c","v":0.012},{"r":0.1,"s":"c","v":0.01202},{"r":0.2,"s":"c","v":0.01203},{"r":0.3,"s":"c","v":0.01205},{"r":0.4,"s":"c","v":0.01206},{"r":0.5,"s":"c","v":0.01206},{"r":0.6,"s":"c","v":0.01207},{"r":0.7,"s":"c","v":0.01207},{"r":0.8,"s":"c","v":0.01206},{"r":0.9,"s":"c","v":0.01206},{"r":1,"s":"c","v":0.01205},{"r":1.1,"s":"c","v":0.01204},{"r":1.2,"s":"c","v":0.01202},{"r":1.3,"s":"c","v":0.01201},{"r":1.4,"s":"c","v":0.01199},{"r":1.5,"s":"c","v":0.01196},{"r":1.6,"s":"c","v":0.01194},{"r":1.7,"s":"c","v":0.01191},{"r":1.8,"s":"c","v":0.01187},{"r":1.9,"s":"c","v":0.01184},{"r":2,"s":"c","v":0.0118},{"r":2.1,"s":"c","v":0.01176},{"r":2.2,"s":"c","v":0.01171},{"r":2.3,"s":"c","v":0.01167},{"r":2.4,"s":"c","v":0.01162},{"r":2.5,"s":"c","v":0.01156},{"r":2.6,"s":"c","v":0.01151},{"r":2.7,"s":"c","v":0.01145},{"r":2.8,"s":"c","v":0.01138},{"r":2.9,"s":"c","v":0.01132},{"r":3,"s":"c","v":0.01125},{"r":3.1,"s":"c","v":0.01118},{"r":3.2,"s":"c","v":0.0111},{"r":3.3,"s":"c","v":0.01103},{"r":3.4,"s":"c","v":0.01095},{"r":3.5,"s":"c","v":0.01086},{"r":3.6,"s":"c","v":0.01078},{"r":3.7,"s":"c","v":0.01069},{"r":3.8,"s":"c","v":0.01059},{"r":3.9,"s":"c","v":0.0105},{"r":4,"s":"c","v":0.0104},{"r":4.1,"s":"c","v":0.0103},{"r":4.2,"s":"c","v":0.01019},{"r":4.3,"s":"c","v":0.01009},{"r":4.4,"s":"c","v":0.00998},{"r":4.5,"s":"c","v":0.00986},{"r":4.6,"s":"c","v":0.00975},{"r":4.7,"s":"c","v":0.00963},{"r":4.8,"s":"c","v":0.0095},{"r":4.9,"s":"c","v":0.00938},{"r":5,"s":"c","v":0.00925},{"r":5.1,"s":"c","v":0.00912},{"r":5.2,"s":"c","v":0.00898},{"r":5.3,"s":"c","v":0.00885},{"r":5.4,"s":"c","v":0.00871},{"r":5.5,"s":"c","v":0.00856},{"r":5.6,"s":"c","v":0.00842},{"r":5.7,"s":"c","v":0.00827},{"r":5.8,"s":"c","v":0.00811},{"r":5.9,"s":"c","v":0.00796},{"r":6,"s":"c","v":0.0078},{"r":6.1,"s":"c","v":0.00764},{"r":6.2,"s":"c","v":0.00747},{"r":6.3,"s":"c","v":0.00731},{"r":6.4,"s":"c","v":0.00714},{"r":6.5,"s":"c","v":0.00696},{"r":6.6,"s":"c","v":0.00679},{"r":6.7,"s":"c","v":0.00661},{"r":6.8,"s":"c","v":0.00642},{"r":6.9,"s":"c","v":0.00624},{"r":7,"s":"c","v":0.00605},{"r":7.1,"s":"c","v":0.00586},{"r":7.2,"s":"c","v":0.00566},{"r":7.3,"s":"c","v":0.00547},{"r":7.4,"s":"c","v":0.00527},{"r":7.5,"s":"c","v":0.00506},{"r":7.6,"s":"c","v":0.00486},{"r":7.7,"s":"c","v":0.00465},{"r":7.8,"s":"c","v":0.00443},{"r":7.9,"s":"c","v":0.00422},{"r":8,"s":"c","v":0.004},{"r":8.1,"s":"c","v":0.00378},{"r":8.2,"s":"c","v":0.00355},{"r":8.3,"s":"c","v":0.00333},{"r":8.4,"s":"c","v":0.0031},{"r":8.5,"s":"c","v":0.00286},{"r":8.6,"s":"c","v":0.00263},{"r":8.7,"s":"c","v":0.00239},{"r":8.8,"s":"c","v":0.00214},{"r":8.9,"s":"c","v":0.0019},{"r":9,"s":"c","v":0.00165},{"r":9.1,"s":"c","v":0.0014},{"r":9.2,"s":"c","v":0.00114},{"r":9.3,"s":"c","v":0.00089},{"r":9.4,"s":"c","v":0.00063},{"r":9.5,"s":"c","v":0.00036},{"r":9.6,"s":"c","v":0.0001},{"r":9.7,"s":"c","v":-0.00017},{"r":9.8,"s":"c","v":-0.00045},{"r":9.9,"s":"c","v":-0.00072},{"r":10,"s":"c","v":-0.001},{"r":10.1,"s":"c","v":-0.00128},{"r":10.2,"s":"c","v":-0.00157},{"r":10.3,"s":"c","v":-0.00185},{"r":10.4,"s":"c","v":-0.00214},{"r":10.5,"s":"c","v":-0.00244},{"r":10.6,"s":"c","v":-0.00273},{"r":10.7,"s":"c","v":-0.00303},{"r":10.8,"s":"c","v":-0.00334},{"r":10.9,"s":"c","v":-0.00364},{"r":11,"s":"c","v":-0.00395},{"r":11.1,"s":"c","v":-0.00426},{"r":11.2,"s":"c","v":-0.00458},{"r":11.3,"s":"c","v":-0.00489},{"r":11.4,"s":"c","v":-0.00521},{"r":11.5,"s":"c","v":-0.00554},{"r":11.6,"s":"c","v":-0.00586},{"r":11.7,"s":"c","v":-0.00619},{"r":11.8,"s":"c","v":-0.00653},{"r":11.9,"s":"c","v":-0.00686},{"r":12,"s":"c","v":-0.0072},{"r":12.1,"s":"c","v":-0.00754},{"r":12.2,"s":"c","v":-0.00789},{"r":12.3,"s":"c","v":-0.00823},{"r":12.4,"s":"c","v":-0.00858},{"r":12.5,"s":"c","v":-0.00894},{"r":12.6,"s":"c","v":-0.00929},{"r":12.7,"s":"c","v":-0.00965},{"r":12.8,"s":"c","v":-0.01002},{"r":12.9,"s":"c","v":-0.01038},{"r":13,"s":"c","v":-0.01075},
{"r":0,"s":"b","v":0.0147},{"r":0.1,"s":"b","v":0.01471},{"r":0.2,"s":"b","v":0.01471},{"r":0.3,"s":"b","v":0.01472},{"r":0.4,"s":"b","v":0.01472},{"r":0.5,"s":"b","v":0.01471},{"r":0.6,"s":"b","v":0.01471},{"r":0.7,"s":"b","v":0.0147},{"r":0.8,"s":"b","v":0.01468},{"r":0.9,"s":"b","v":0.01467},{"r":1,"s":"b","v":0.01465},{"r":1.1,"s":"b","v":0.01463},{"r":1.2,"s":"b","v":0.0146},{"r":1.3,"s":"b","v":0.01458},{"r":1.4,"s":"b","v":0.01455},{"r":1.5,"s":"b","v":0.01451},{"r":1.6,"s":"b","v":0.01448},{"r":1.7,"s":"b","v":0.01444},{"r":1.8,"s":"b","v":0.01439},{"r":1.9,"s":"b","v":0.01435},{"r":2,"s":"b","v":0.0143},{"r":2.1,"s":"b","v":0.01425},{"r":2.2,"s":"b","v":0.01419},{"r":2.3,"s":"b","v":0.01414},{"r":2.4,"s":"b","v":0.01408},{"r":2.5,"s":"b","v":0.01401},{"r":2.6,"s":"b","v":0.01395},{"r":2.7,"s":"b","v":0.01388},{"r":2.8,"s":"b","v":0.0138},{"r":2.9,"s":"b","v":0.01373},{"r":3,"s":"b","v":0.01365},{"r":3.1,"s":"b","v":0.01357},{"r":3.2,"s":"b","v":0.01348},{"r":3.3,"s":"b","v":0.0134},{"r":3.4,"s":"b","v":0.01331},{"r":3.5,"s":"b","v":0.01321},{"r":3.6,"s":"b","v":0.01312},{"r":3.7,"s":"b","v":0.01302},{"r":3.8,"s":"b","v":0.01291},{"r":3.9,"s":"b","v":0.01281},{"r":4,"s":"b","v":0.0127},{"r":4.1,"s":"b","v":0.01259},{"r":4.2,"s":"b","v":0.01247},{"r":4.3,"s":"b","v":0.01236},{"r":4.4,"s":"b","v":0.01224},{"r":4.5,"s":"b","v":0.01211},{"r":4.6,"s":"b","v":0.01199},{"r":4.7,"s":"b","v":0.01186},{"r":4.8,"s":"b","v":0.01172},{"r":4.9,"s":"b","v":0.01159},{"r":5,"s":"b","v":0.01145},{"r":5.1,"s":"b","v":0.01131},{"r":5.2,"s":"b","v":0.01116},{"r":5.3,"s":"b","v":0.01102},{"r":5.4,"s":"b","v":0.01087},{"r":5.5,"s":"b","v":0.01071},{"r":5.6,"s":"b","v":0.01056},{"r":5.7,"s":"b","v":0.0104},{"r":5.8,"s":"b","v":0.01023},{"r":5.9,"s":"b","v":0.01007},{"r":6,"s":"b","v":0.0099},{"r":6.1,"s":"b","v":0.00973},{"r":6.2,"s":"b","v":0.00955},{"r":6.3,"s":"b","v":0.00938},{"r":6.4,"s":"b","v":0.0092},{"r":6.5,"s":"b","v":0.00901},{"r":6.6,"s":"b","v":0.00883},{"r":6.7,"s":"b","v":0.00864},{"r":6.8,"s":"b","v":0.00844},{"r":6.9,"s":"b","v":0.00825},{"r":7,"s":"b","v":0.00805},{"r":7.1,"s":"b","v":0.00785},{"r":7.2,"s":"b","v":0.00764},{"r":7.3,"s":"b","v":0.00744},{"r":7.4,"s":"b","v":0.00723},{"r":7.5,"s":"b","v":0.00701},{"r":7.6,"s":"b","v":0.0068},{"r":7.7,"s":"b","v":0.00658},{"r":7.8,"s":"b","v":0.00635},{"r":7.9,"s":"b","v":0.00613},{"r":8,"s":"b","v":0.0059},{"r":8.1,"s":"b","v":0.00567},{"r":8.2,"s":"b","v":0.00543},{"r":8.3,"s":"b","v":0.0052},{"r":8.4,"s":"b","v":0.00496},{"r":8.5,"s":"b","v":0.00471},{"r":8.6,"s":"b","v":0.00447},{"r":8.7,"s":"b","v":0.00422},{"r":8.8,"s":"b","v":0.00396},{"r":8.9,"s":"b","v":0.00371},{"r":9,"s":"b","v":0.00345},{"r":9.1,"s":"b","v":0.00319},{"r":9.2,"s":"b","v":0.00292},{"r":9.3,"s":"b","v":0.00266},{"r":9.4,"s":"b","v":0.00239},{"r":9.5,"s":"b","v":0.00211},{"r":9.6,"s":"b","v":0.00184},{"r":9.7,"s":"b","v":0.00156},{"r":9.8,"s":"b","v":0.00127},{"r":9.9,"s":"b","v":0.00099},{"r":10,"s":"b","v":0.0007},{"r":10.1,"s":"b","v":0.00041},{"r":10.2,"s":"b","v":0.00011},{"r":10.3,"s":"b","v":-0.00018},{"r":10.4,"s":"b","v":-0.00048},{"r":10.5,"s":"b","v":-0.00079},{"r":10.6,"s":"b","v":-0.00109},{"r":10.7,"s":"b","v":-0.0014},{"r":10.8,"s":"b","v":-0.00172},{"r":10.9,"s":"b","v":-0.00203},{"r":11,"s":"b","v":-0.00235},{"r":11.1,"s":"b","v":-0.00267},{"r":11.2,"s":"b","v":-0.003},{"r":11.3,"s":"b","v":-0.00332},{"r":11.4,"s":"b","v":-0.00365},{"r":11.5,"s":"b","v":-0.00399},{"r":11.6,"s":"b","v":-0.00432},{"r":11.7,"s":"b","v":-0.00466},{"r":11.8,"s":"b","v":-0.00501},{"r":11.9,"s":"b","v":-0.00535},{"r":12,"s":"b","v":-0.0057},{"r":12.1,"s":"b","v":-0.00605},{"r":12.2,"s":"b","v":-0.00641},{"r":12.3,"s":"b","v":-0.00676},{"r":12.4,"s":"b","v":-0.00712},{"r":12.5,"s":"b","v":-0.00749},{"r":12.6,"s":"b","v":-0.00785},{"r":12.7,"s":"b","v":-0.00822},{"r":12.8,"s":"b","v":-0.0086},{"r":12.9,"s":"b","v":-0.00897},{"r":13,"s":"b","v":-0.00935}
]
},
"hconcat": [
{
  "width": 559, "height": 437,
  "title": {"text": "(a)", "orient": "bottom", "offset": 12},
  "layer": [
    {"data": {"values": [{}]}, "mark": {"type": "rule", "color": "#777", "strokeWidth": 1, "strokeDash": [9, 3, 2, 3]},
     "encoding": {"x": {"datum": 0, "type": "quantitative", "scale": {"domain": [-0.5, 13], "nice": false, "zero": false}, "axis": null}}},
    {"data": {"values": [{}]}, "mark": {"type": "rule", "color": "#222", "strokeWidth": 1},
     "encoding": {"y": {"datum": 0, "type": "quantitative", "scale": {"domain": [-0.04, 0.04], "nice": false}, "axis": null}}},
    {"data": {"name": "sc"}, "mark": {"type": "point", "filled": true, "fill": "#b8b8b8", "stroke": "#333", "strokeWidth": 1, "opacity": 1, "clip": true},
     "encoding": {
       "x": {"field": "r", "type": "quantitative", "scale": {"domain": [-0.5, 13], "nice": false, "zero": false},
             "axis": {"orient": "bottom", "values": [0, 2, 4, 6, 8, 10, 12], "title": "R [mm]", "tickSize": -5, "labelPadding": 13, "titlePadding": 14}},
       "y": {"field": "v", "type": "quantitative", "scale": {"domain": [-0.04, 0.04], "nice": false},
             "axis": {"orient": "left", "values": [-0.04, -0.03, -0.02, -0.01, 0, 0.01, 0.02, 0.03, 0.04], "title": "Vz [m/s]", "labelExpr": "datum.value == 0 ? '0' : (datum.value < 0 ? '-' : '') + format(abs(datum.value), '.2f')", "tickSize": -5, "labelPadding": 11, "titlePadding": 8}},
       "size": {"field": "d", "type": "quantitative", "scale": {"type": "pow", "exponent": 2.5, "domain": [0.1, 0.2], "range": [28, 235], "zero": false},
             "legend": {"title": null, "orient": "none", "legendX": 48, "legendY": 394, "direction": "horizontal", "values": [0.1, 0.15, 0.2], "labelExpr": "'D = ' + datum.value + ' mm'", "labelFontSize": 21, "columnPadding": 44, "padding": 6, "labelOffset": 4,
               "encode": {"symbols": {"update": {"fill": {"value": "#b8b8b8"}, "stroke": {"value": "#333"}, "strokeWidth": {"value": 1}, "opacity": {"value": 1}}}}}}
     }},
    {"data": {"name": "hp"}, "mark": {"type": "line", "color": "#6e6e6e", "strokeWidth": 2},
     "encoding": {
       "x": {"field": "r", "type": "quantitative", "scale": {"domain": [-0.5, 13], "nice": false, "zero": false},
             "axis": {"orient": "top", "values": [0, 2, 4, 6, 8, 10, 12], "labels": false, "title": null, "tickSize": -5}},
       "y": {"field": "v", "type": "quantitative", "scale": {"domain": [-0.04, 0.04], "nice": false},
             "axis": {"orient": "right", "values": [-0.04, -0.03, -0.02, -0.01, 0, 0.01, 0.02, 0.03, 0.04], "labels": false, "title": null, "tickSize": -5}},
       "strokeDash": {"field": "n", "type": "nominal", "scale": {"domain": ["hp"], "range": [[8, 6]]},
             "legend": {"title": null, "orient": "none", "legendX": 344, "legendY": 8, "labelExpr": "['Hagen-Poiseuille', 'velocity profile']", "labelFontSize": 21, "symbolType": "stroke", "symbolSize": 625, "symbolStrokeColor": "#6e6e6e", "symbolStrokeWidth": 2, "padding": 8, "labelOffset": 12}}
     }}
  ],
  "resolve": {"axis": {"x": "independent", "y": "independent"}}
},
{
  "width": 559, "height": 437,
  "title": {"text": "(b)", "orient": "bottom", "offset": 12},
  "layer": [
    {"data": {"values": [{}]}, "mark": {"type": "rule", "color": "#777", "strokeWidth": 1, "strokeDash": [9, 3, 2, 3]},
     "encoding": {"x": {"datum": 0, "type": "quantitative", "scale": {"domain": [-0.5, 13], "nice": false, "zero": false}, "axis": null}}},
    {"data": {"values": [{}]}, "mark": {"type": "rule", "color": "#222", "strokeWidth": 1},
     "encoding": {"y": {"datum": 0, "type": "quantitative", "scale": {"domain": [-0.04, 0.04], "nice": false}, "axis": null}}},
    {"data": {"name": "fit"}, "mark": {"type": "point", "filled": false, "opacity": 1, "clip": true},
     "encoding": {
       "x": {"field": "r", "type": "quantitative", "scale": {"domain": [-0.5, 13], "nice": false, "zero": false},
             "axis": {"orient": "bottom", "values": [0, 2, 4, 6, 8, 10, 12], "title": "R [mm]", "tickSize": -5, "labelPadding": 13, "titlePadding": 14}},
       "y": {"field": "v", "type": "quantitative", "scale": {"domain": [-0.04, 0.04], "nice": false},
             "axis": {"orient": "left", "values": [-0.04, -0.03, -0.02, -0.01, 0, 0.01, 0.02, 0.03, 0.04], "title": "Vz [m/s]", "labelExpr": "datum.value == 0 ? '0' : (datum.value < 0 ? '-' : '') + format(abs(datum.value), '.2f')", "tickSize": -5, "labelPadding": 11, "titlePadding": 8}},
       "shape": {"field": "s", "type": "nominal", "scale": {"domain": ["a", "b", "c"], "range": ["circle", "M-1,-1L1,1M-1,1L1,-1", "M-1,0L1,0M0,-1L0,1M-0.75,-0.75L0.75,0.75M-0.75,0.75L0.75,-0.75"]},
             "legend": {"title": null, "orient": "none", "legendX": 29, "legendY": 315, "labelExpr": "datum.value == 'a' ? 'fit function to particles with D < 0.1075 mm' : datum.value == 'b' ? 'fit function to particles with 0.1075 <= D < 0.1425 mm' : 'fit function to particles with D >= 0.1425 mm'", "labelFontSize": 21, "labelLimit": 800, "rowPadding": 17, "padding": 8, "symbolSize": 45, "symbolStrokeWidth": 1.6, "labelOffset": 6}},
       "color": {"field": "s", "type": "nominal", "scale": {"domain": ["a", "b", "c"], "range": ["#777777", "#000000", "#6a6a6a"]},
             "legend": {"title": null, "orient": "none", "legendX": 29, "legendY": 315, "labelExpr": "datum.value == 'a' ? 'fit function to particles with D < 0.1075 mm' : datum.value == 'b' ? 'fit function to particles with 0.1075 <= D < 0.1425 mm' : 'fit function to particles with D >= 0.1425 mm'", "labelFontSize": 21, "labelLimit": 800, "rowPadding": 17, "padding": 8, "symbolSize": 45, "symbolStrokeWidth": 1.6, "labelOffset": 6}},
       "size": {"field": "s", "type": "nominal", "scale": {"domain": ["a", "b", "c"], "range": [72, 58, 90]}, "legend": null},
       "strokeWidth": {"field": "s", "type": "nominal", "scale": {"domain": ["a", "b", "c"], "range": [1.5, 2, 2.4]}, "legend": null}
     }},
    {"data": {"name": "hp"}, "mark": {"type": "line", "color": "#6e6e6e", "strokeWidth": 2},
     "encoding": {
       "x": {"field": "r", "type": "quantitative", "scale": {"domain": [-0.5, 13], "nice": false, "zero": false},
             "axis": {"orient": "top", "values": [0, 2, 4, 6, 8, 10, 12], "labels": false, "title": null, "tickSize": -5}},
       "y": {"field": "v", "type": "quantitative", "scale": {"domain": [-0.04, 0.04], "nice": false},
             "axis": {"orient": "right", "values": [-0.04, -0.03, -0.02, -0.01, 0, 0.01, 0.02, 0.03, 0.04], "labels": false, "title": null, "tickSize": -5}},
       "strokeDash": {"field": "n", "type": "nominal", "scale": {"domain": ["hp"], "range": [[8, 6]]},
             "legend": {"title": null, "orient": "none", "legendX": 343, "legendY": 7, "labelExpr": "['Hagen-Poiseuille', 'velocity profile']", "labelFontSize": 21, "symbolType": "stroke", "symbolSize": 625, "symbolStrokeColor": "#6e6e6e", "symbolStrokeWidth": 2, "padding": 8, "labelOffset": 12}}
     }}
  ],
  "resolve": {"axis": {"x": "independent", "y": "independent"}}
}
]
}
